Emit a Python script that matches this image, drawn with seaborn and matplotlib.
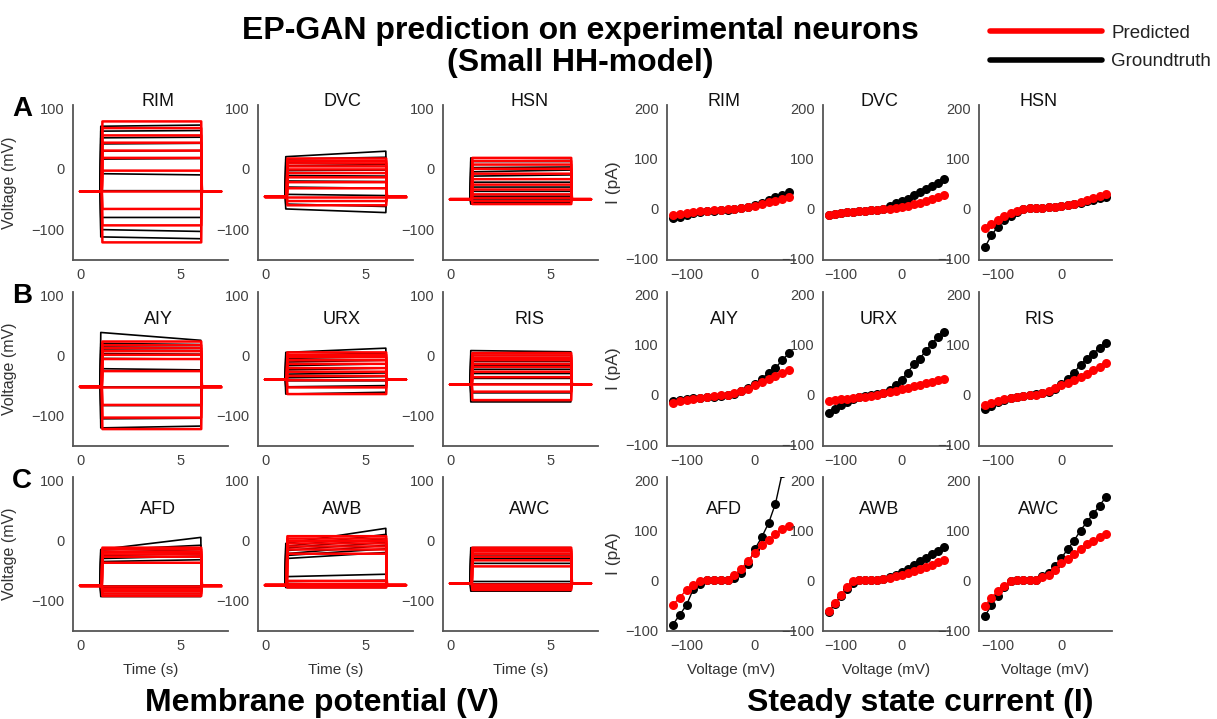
import matplotlib
matplotlib.use("Agg")
import matplotlib.pyplot as plt
from matplotlib.lines import Line2D
import numpy as np
import pandas as pd
import seaborn as sns

W, H = 1217, 719

# ---------------------------------------------------------------- I-V sweeps
V_TO_40 = [-120, -110, -100, -90, -80, -70, -60, -50, -40, -30, -20, -10, 0, 10, 20, 30, 40]
V_TO_50 = [-120, -110, -100, -90, -80, -70, -60, -50, -40, -30, -20, -10, 0, 10, 20, 30, 40, 50]
V_TO_70 = [-120, -110, -100, -90, -80, -70, -60, -50, -40, -30, -20, -10, 0, 10, 20, 30, 40, 50, 60, 70]

RIM_iv_pred = [-13, -11, -9, -7, -5, -4, -3, -2, -1, 0, 1, 3, 6, 10, 13, 16, 20, 24]
RIM_iv_gt = [-19, -16, -12, -9, -7, -5, -4, -3, -2, -1, 1, 3, 7, 12, 18, 23, 27, 33]
DVC_iv_pred = [-13, -11, -9, -7, -6, -5, -4, -3, -2, -1, 0, 2, 4, 6, 9, 12, 15, 19, 23, 27]
DVC_iv_gt = [-13, -11, -9, -7, -6, -5, -4, -3, -2, 0, 6, 11, 15, 20, 27, 34, 40, 46, 52, 58]
HSN_iv_pred = [-39, -31, -22, -14, -8, -4, -1, 1, 1, 2, 3, 4, 5, 7, 10, 13, 17, 21, 26, 30]
HSN_iv_gt = [-76, -53, -36, -23, -14, -7, -1, 1, 1, 2, 3, 4, 5, 7, 9, 12, 15, 18, 22, 24]

AIY_iv_pred = [-15, -12, -9, -7, -5, -3, -2, 0, 1, 4, 9, 13, 20, 26, 33, 38, 45, 51]
AIY_iv_gt = [-12, -10, -8, -6, -5, -4, -3, -1, 0, 2, 9, 15, 23, 32, 45, 54, 70, 84]
URX_iv_pred = [-12, -10, -8, -7, -5, -3, -3, -1, 1, 4, 6, 9, 12, 15, 18, 21, 24, 27, 30, 32]
URX_iv_gt = [-36, -28, -20, -13, -8, -4, -2, 0, 2, 5, 10, 20, 31, 45, 62, 73, 89, 103, 117, 126]
RIS_iv_pred = [-20, -16, -12, -8, -5, -3, -2, 0, 1, 4, 8, 15, 20, 25, 30, 36, 42, 50, 56, 64]
RIS_iv_gt = [-28, -21, -14, -9, -5, -3, -2, 0, 2, 4, 7, 13, 23, 33, 45, 61, 73, 83, 95, 104]

AFD_iv_pred = [-50, -35, -20, -10, -2, 1, 1, 1, 1, 10, 22, 39, 55, 70, 80, 92, 103, 109]
AFD_iv_gt = [-89, -70, -50, -18, -7, 1, 1, 1, 1, 4, 14, 32, 62, 86, 114, 153, 215]
AWB_iv_pred = [-61, -46, -30, -13, -2, 1, 1, 1, 1, 3, 5, 8, 11, 14, 18, 22, 26, 31, 36, 41]
AWB_iv_gt = [-64, -48, -32, -18, -5, 1, 1, 1, 1, 3, 7, 11, 16, 22, 30, 39, 45, 53, 59, 67]
AWC_iv_pred = [-51, -35, -22, -12, -2, 1, 1, 1, 1, 6, 11, 21, 34, 42, 53, 62, 72, 79, 86, 93]
AWC_iv_gt = [-72, -50, -32, -13, -2, 1, 1, 1, 1, 8, 14, 28, 44, 62, 79, 99, 116, 132, 149, 166]

# ------------------------------------------------- membrane potential steps
# resting level, predicted plateau levels, recorded plateau at onset / offset
RIM_rest = -37
RIM_pred = [78, 67, 55, 43, 30, 18, -3, -37, -66, -93, -121]
RIM_gt_start = [70, 62, 51, 41, 29, 16, -8, -36, -80, -100, -112]
RIM_gt_end = [72, 63, 52, 42, 30, 17, -10, -36, -80, -103, -115]

DVC_rest = -46
DVC_pred = [17, 13, 9, 4, -1, -7, -14, -22, -32, -46, -53, -60]
DVC_gt_start = [20, 16, 11, 5, -3, -11, -20, -30, -42, -58, -66]
DVC_gt_end = [29, 19, 13, 7, -2, -12, -21, -32, -44, -62, -72]

HSN_rest = -50
HSN_pred = [18, 13, 7, 0, -8, -17, -26, -34, -42, -48, -53, -58]
HSN_gt_start = [18, 12, 2, -5, -12, -22, -30, -37, -45, -50, -55, -58]
HSN_gt_end = [17, 12, 3, -2, -10, -22, -30, -37, -45, -50, -55, -58]

AIY_rest = -52
AIY_pred = [23, 17, 12, 7, 1, -6, -26, -52, -82, -103, -122]
AIY_gt_start = [38, 20, 14, 9, 3, -5, -22, -52, -83, -105, -120]
AIY_gt_end = [25, 18, 13, 8, 2, -6, -24, -52, -83, -104, -117]

URX_rest = -40
URX_pred = [5, 1, -3, -8, -14, -21, -27, -34, -41, -53, -64]
URX_gt_start = [5, 0, -5, -11, -17, -24, -31, -37, -42, -52, -64]
URX_gt_end = [12, 4, -2, -8, -14, -21, -29, -35, -42, -50, -61]

RIS_rest = -48
RIS_pred = [4, 0, -4, -8, -14, -19, -27, -36, -48, -60, -74]
RIS_gt_start = [8, 0, -5, -10, -17, -23, -30, -38, -48, -62, -77]
RIS_gt_end = [6, 0, -5, -10, -17, -23, -30, -38, -48, -62, -77]

AFD_rest = -75
AFD_pred = [-12, -15, -19, -23, -27, -37, -75, -80, -84, -88, -92]
AFD_gt_start = [-15, -16, -20, -25, -30, -35, -75, -78, -84, -88, -93]
AFD_gt_end = [5, -8, -15, -22, -26, -32, -75, -78, -84, -88, -93]

AWB_rest = -74
AWB_pred = [7, 3, -1, -5, -10, -15, -22, -67, -72, -75, -78]
AWB_gt_start = [-5, -10, -13, -17, -22, -25, -30, -60, -68, -74, -78]
AWB_gt_end = [20, 10, 3, -3, -8, -14, -20, -56, -66, -74, -78]

AWC_rest = -71
AWC_pred = [-12, -15, -18, -22, -27, -33, -43, -73, -76, -79, -82]
AWC_gt_start = [-12, -17, -22, -26, -30, -38, -68, -72, -76, -80, -84]
AWC_gt_end = [-12, -17, -22, -26, -30, -38, -68, -72, -76, -80, -84]

ROW_LETTERS = ["A", "B", "C"]
NEURONS = [["RIM", "DVC", "HSN"], ["AIY", "URX", "RIS"], ["AFD", "AWB", "AWC"]]

# step protocol timing (s): recorded and simulated step onsets differ slightly
GT_ON, GT_OFF = 1.0, 6.0
PRED_ON, PRED_OFF = 1.08, 6.02
T_EDGE, T_END = 0.03, 7.0

RED = "#ff0000"
BLACK = "#000000"
TICK_COLOR = "#404040"
SPINE_COLOR = "#555555"

sns.set_theme(style="white")
plt.rcParams["font.family"] = ["Liberation Sans", "DejaVu Sans"]
plt.rcParams["axes.edgecolor"] = SPINE_COLOR
plt.rcParams["axes.linewidth"] = 1.3
plt.rcParams["xtick.major.size"] = 0
plt.rcParams["ytick.major.size"] = 0

fig = plt.figure(figsize=(W / 100, H / 100), dpi=100)


def px_axes(x0, y0, x1, y1):
    return fig.add_axes([x0 / W, 1 - y1 / H, (x1 - x0) / W, (y1 - y0) / H])


def step_frame(rest, v_start, v_end, t_on, t_off):
    rows = []
    for k, (a, b) in enumerate(zip(v_start, v_end)):
        t = [0.0, t_on, t_on + T_EDGE, t_off, t_off + T_EDGE, T_END]
        v = [rest, rest, a, b, rest, rest]
        rows.append(pd.DataFrame({"t": t, "v": v, "sweep": k}))
    return pd.concat(rows, ignore_index=True)


def style_axes(ax):
    sns.despine(ax=ax)
    ax.tick_params(axis="both", labelsize=10.5, colors=TICK_COLOR, pad=6)


ROW_Y = [(105, 260), (292, 446), (477, 631)]
VOLT_X = [(73, 228), (258, 413), (443, 598)]
IV_X = [(667, 795), (823, 950), (979, 1112)]
TITLE_Y = [102, 320, 510]
VOLT_TITLE_X = [158, 342, 530]
IV_TITLE_X = [724, 879, 1039]

for r in range(3):
    y0, y1 = ROW_Y[r]
    for c in range(3):
        name = NEURONS[r][c]
        rest = globals()[f"{name}_rest"]
        pred = globals()[f"{name}_pred"]
        gt_a = globals()[f"{name}_gt_start"]
        gt_b = globals()[f"{name}_gt_end"]

        # membrane potential traces
        ax = px_axes(VOLT_X[c][0], y0, VOLT_X[c][1], y1)
        sns.lineplot(data=step_frame(rest, gt_a, gt_b, GT_ON, GT_OFF), x="t", y="v",
                     units="sweep", estimator=None, sort=False, color=BLACK, lw=1.2,
                     ax=ax, legend=False)
        sns.lineplot(data=step_frame(rest, pred, pred, PRED_ON, PRED_OFF), x="t", y="v",
                     units="sweep", estimator=None, sort=False, color=RED, lw=1.8,
                     ax=ax, legend=False)
        ax.set_ylim(-150, 105)
        ax.set_yticks([-100, 0, 100])
        ax.set_xticks([0, 5])
        style_axes(ax)
        ax.set_xlabel("Time (s)" if r == 2 else "", fontsize=11, color="#333333")
        ax.xaxis.set_label_coords(0.5, -0.21)
        if c == 0:
            ax.set_ylabel("Voltage (mV)", fontsize=11.5, color="#333333")
            ax.yaxis.set_label_coords(-0.36, 0.5)
        else:
            ax.set_ylabel("")
        fig.text(VOLT_TITLE_X[c] / W, 1 - TITLE_Y[r] / H, name, ha="center", va="center",
                 fontsize=13, color="#111111")

        # steady state current
        ivx = IV_X[c]
        ax2 = px_axes(ivx[0], y0, ivx[1], y1)
        iv_gt = globals()[f"{name}_iv_gt"]
        iv_pred = globals()[f"{name}_iv_pred"]
        v_gt = {17: V_TO_40, 18: V_TO_50, 20: V_TO_70}[len(iv_gt)]
        v_pred = {17: V_TO_40, 18: V_TO_50, 20: V_TO_70}[len(iv_pred)]
        sns.lineplot(x=v_gt, y=iv_gt, color=BLACK, lw=1.0, marker="o", markersize=6.5,
                     markeredgewidth=0, ax=ax2)
        sns.lineplot(x=v_pred, y=iv_pred, color=RED, lw=1.0, marker="o", markersize=6.5,
                     markeredgewidth=0, ax=ax2)
        ax2.set_ylim(-102, 206)
        ax2.set_yticks([-100, 0, 100, 200])
        ax2.set_xticks([-100, 0])
        style_axes(ax2)
        ax2.set_xlabel("Voltage (mV)" if r == 2 else "", fontsize=11, color="#333333")
        ax2.xaxis.set_label_coords(0.5, -0.21)
        if c == 0:
            ax2.set_ylabel("I (pA)", fontsize=12.5, color="#333333")
            ax2.yaxis.set_label_coords(-0.36, 0.5)
        fig.text(IV_TITLE_X[c] / W, 1 - TITLE_Y[r] / H, name, ha="center", va="center",
                 fontsize=13, color="#111111")

    fig.text(22 / W, 1 - (y0 + 4) / H, ROW_LETTERS[r], ha="center", va="center",
             fontsize=20, fontweight="bold", color="black")

fig.text(580 / W, 1 - 46 / H, "EP-GAN prediction on experimental neurons",
         ha="center", va="bottom", fontsize=23, fontweight="bold", color="black")
fig.text(580 / W, 1 - 48 / H, "(Small HH-model)",
         ha="center", va="top", fontsize=23, fontweight="bold", color="black")
fig.text(322 / W, 1 - 703 / H, "Membrane potential (V)", ha="center", va="center",
         fontsize=23, fontweight="bold", color="black")
fig.text(920 / W, 1 - 703 / H, "Steady state current (I)", ha="center", va="center",
         fontsize=23, fontweight="bold", color="black")

handles = [Line2D([], [], color=RED, lw=4), Line2D([], [], color=BLACK, lw=4)]
fig.legend(handles, ["Predicted", "Groundtruth"], loc="upper right",
           bbox_to_anchor=(1.0, 1 - 19 / H), frameon=False, fontsize=13.5, handlelength=6.0,
           labelspacing=0.6, handletextpad=0.5, borderaxespad=0.0, borderpad=0.3,
           labelcolor="#222222")

fig.savefig("out.png", dpi=100)
